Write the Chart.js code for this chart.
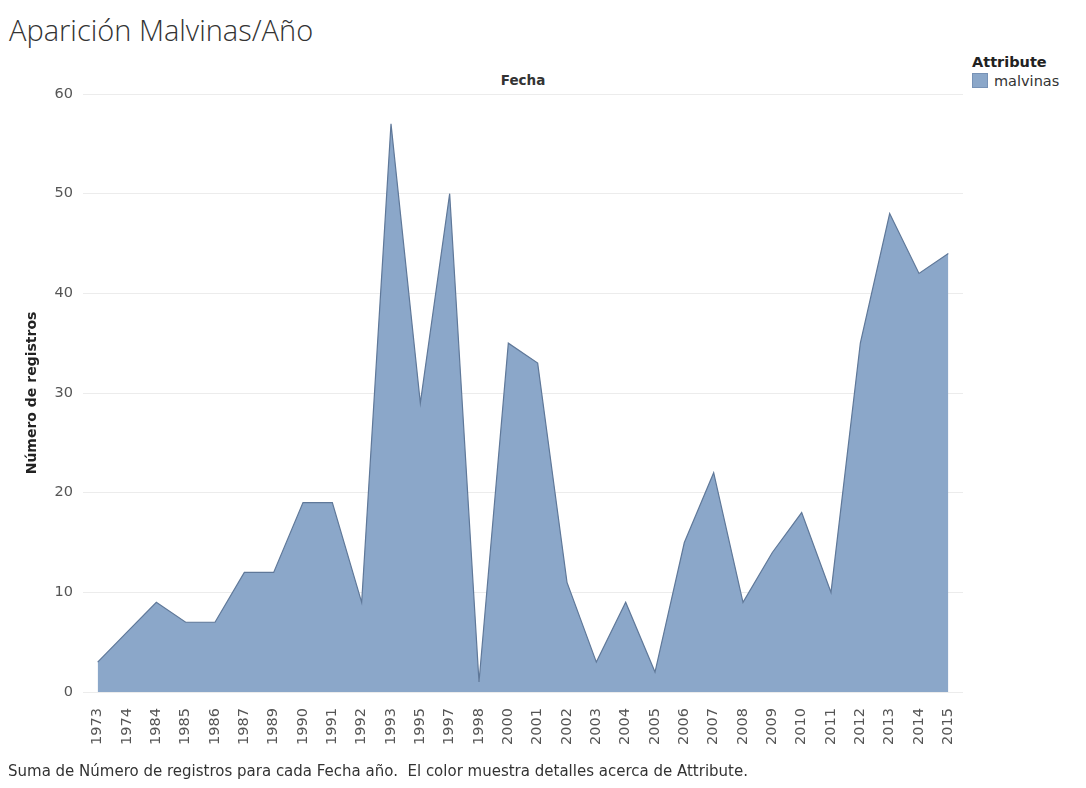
<!DOCTYPE html>
<html>
<head>
<meta charset="utf-8">
<script src="https://cdn.jsdelivr.net/npm/chart.js@4/dist/chart.umd.min.js"></script>
<style>
  body { margin: 0; background: #fff; font-family: 'DejaVu Sans', sans-serif; color: #333; }
  #wrap { position: relative; width: 1086px; height: 788px; overflow: hidden; }
  #ch { position: absolute; left: 0; top: 0; }
  .title { position: absolute; left: 9px; top: 13px; font-family: 'Open Sans', sans-serif; font-size: 29px; font-weight: 300; line-height: 1.2; color: #333; }
  .head { position: absolute; left: 473px; top: 71px; width: 100px; text-align: center; font-size: 13.5px; font-weight: 700; line-height: 18px; color: #333; }
  .leg-t { position: absolute; left: 972px; top: 53px; font-size: 14.5px; font-weight: 700; line-height: 18px; color: #222; }
  .leg-i { position: absolute; left: 972px; top: 72px; font-size: 14.5px; line-height: 18px; color: #333; }
  .leg-i span { display: inline-block; width: 16px; height: 15px; background: #8ba7c9; border: 1px solid #7792b6; vertical-align: -2px; margin-right: 6px; box-sizing: border-box; }
  .foot { position: absolute; left: 8px; top: 762px; font-size: 15px; line-height: 18px; color: #333; }
</style>
</head>
<body>
<div id="wrap">
  <div class="title">Aparición Malvinas/Año</div>
  <div class="head">Fecha</div>
  <div class="leg-t">Attribute</div>
  <div class="leg-i"><span></span>malvinas</div>
  <canvas id="ch" width="1086" height="788"></canvas>
  <div class="foot">Suma de Número de registros para cada Fecha año.&nbsp; El color muestra detalles acerca de Attribute.</div>
</div>
<script>
const years = ['1973', '1974', '1984', '1985', '1986', '1987', '1989', '1990', '1991', '1992',
  '1993', '1995', '1997', '1998', '2000', '2001', '2002', '2003', '2004', '2005',
  '2006', '2007', '2008', '2009', '2010', '2011', '2012', '2013', '2014', '2015'];
const malvinas = [3, 6, 9, 7, 7, 12, 12, 19, 19, 9,
  57, 29, 50, 1, 35, 33, 11, 3, 9, 2,
  15, 22, 9, 14, 18, 10, 35, 48, 42, 44];
const yTicks = [0, 10, 20, 30, 40, 50, 60];

// years sit at index positions on a linear axis so the area can be inset a little
const points = malvinas.map((v, i) => ({ x: i, y: v }));

new Chart(document.getElementById('ch'), {
  type: 'line',
  data: {
    datasets: [{
      label: 'malvinas',
      data: points,
      fill: 'origin',
      backgroundColor: '#8ba7c9',
      borderColor: '#5f7899',
      borderWidth: 1.2,
      pointRadius: 0,
      tension: 0,
    }],
  },
  options: {
    responsive: false,
    animation: false,
    layout: { padding: { left: 20, top: 94, right: 123, bottom: 34 } },
    plugins: { legend: { display: false }, tooltip: { enabled: false } },
    scales: {
      x: {
        type: 'linear',
        min: -0.5, max: years.length - 0.5,
        afterBuildTicks: s => { s.ticks = years.map((_, i) => ({ value: i })); },
        grid: { display: false },
        border: { display: false },
        ticks: {
          callback: v => years[v],
          minRotation: 90, maxRotation: 90, autoSkip: false,
          color: '#555', font: { family: 'DejaVu Sans', size: 14.5 }, padding: 8,
        },
        afterFit: s => { s.height = 62; },
      },
      y: {
        min: 0, max: 60,
        afterBuildTicks: s => { s.ticks = yTicks.map(v => ({ value: v })); },
        grid: { color: '#ececec', drawTicks: false },
        border: { display: false },
        ticks: { color: '#555', font: { family: 'DejaVu Sans', size: 14.5 }, padding: 10 },
        title: {
          display: true, text: 'Número de registros', color: '#222',
          font: { family: 'DejaVu Sans', size: 14, weight: 'bold' }, padding: { top: 4 },
        },
        afterFit: s => { s.width = 63; },
      },
    },
  },
});
</script>
</body>
</html>
